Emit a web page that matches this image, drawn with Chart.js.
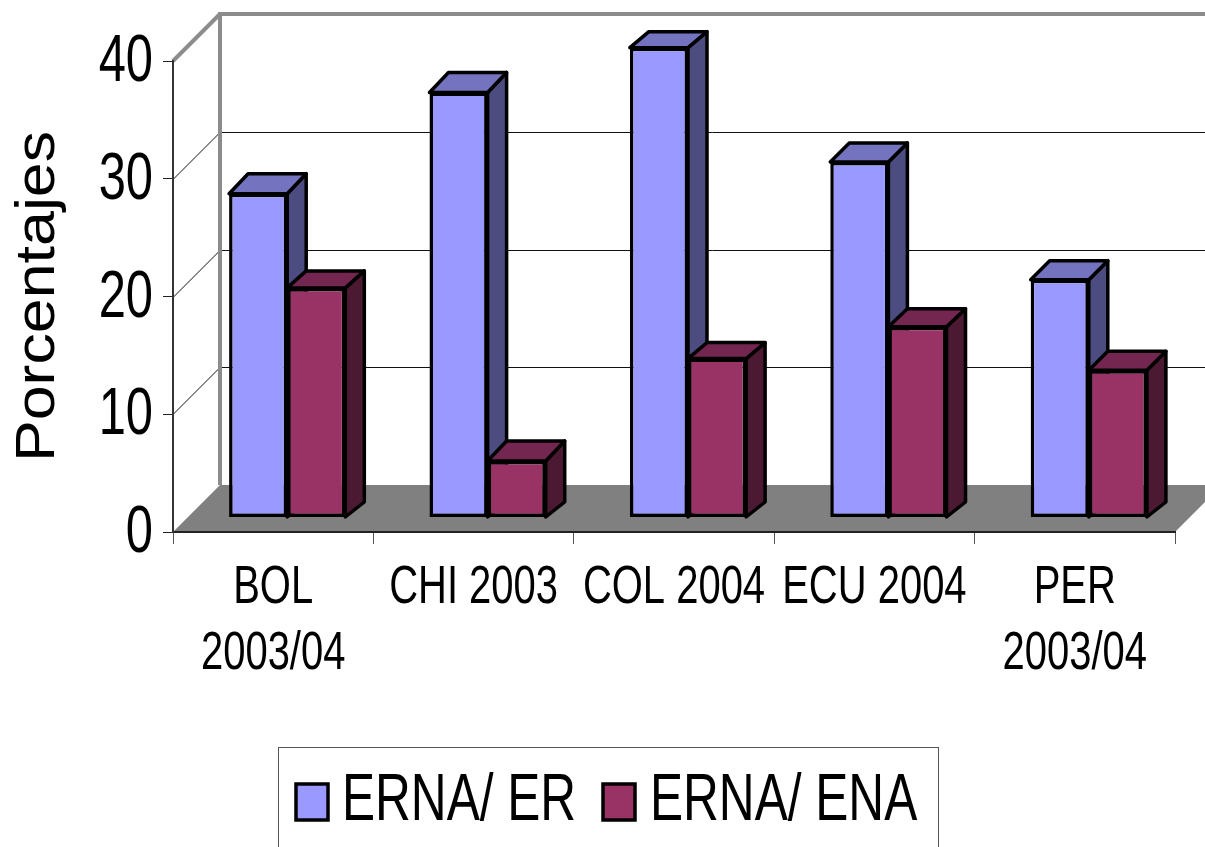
<!DOCTYPE html>
<html lang="es">
<head>
    <meta charset="UTF-8">
    <title>Porcentajes</title>
    <script src="https://cdn.jsdelivr.net/npm/chart.js@4"></script>
    <style>
        body{ margin: 0; background: #fff; }
        canvas{ display: block; }
    </style>
</head>
<body>
    <canvas id="miCanvas" width="1205" height="847"></canvas>
    <script>
        const categories = [["BOL", "2003/04"], "CHI 2003", "COL 2004", "ECU 2004", ["PER", "2003/04"]];
        const erValues = [27.5, 36.1, 39.9, 30.2, 20.2];
        const enaValues = [19.5, 4.8, 13.5, 16.2, 12.5];
        const yTicks = [0, 10, 20, 30, 40];
        const seriesNames = ["ERNA/ ER", "ERNA/ ENA"];
        const yTitle = "Porcentajes";

        const sans = "'Liberation Sans', sans-serif";
        // front, top, side
        const faces = [["#9999FF", "#7373BF", "#4C4C80"], ["#993366", "#732650", "#4C1933"]];
        const wallX = 47, wallY = 47;     // front axis plane -> back wall
        const barX = 14, barY = 14.5;     // front axis plane -> bar front
        const depthX = 19, depthBase = 15;
        // the original's cap height wobbles from bar to bar
        const depthTop = [[20, 20, 16, 19, 19], [17, 20, 16, 18, 19]];

        const poly = (ctx, pts) => {
            ctx.beginPath();
            pts.forEach((p, i) => i ? ctx.lineTo(p[0], p[1]) : ctx.moveTo(p[0], p[1]));
            ctx.closePath();
        };

        const canvas = document.getElementById("miCanvas");

        // no narrow font installed: squeeze text horizontally, the title goes wider
        const ctx2d = canvas.getContext("2d");
        const fillTextOrig = ctx2d.fillText;
        ctx2d.fillText = function (text, x, y) {
            const k = text === yTitle ? 1.12 : 0.74;
            this.save();
            this.translate(x, y);
            this.scale(k, 1);
            fillTextOrig.call(this, text, 0, 0);
            this.restore();
        };

        const fake3d = {
            id: "fake3d",
            beforeDraw(chart) {
                const ctx = chart.ctx, a = chart.chartArea, y = chart.scales.y;
                const bottom = y.getPixelForValue(0), top = y.getPixelForValue(40);
                ctx.save();
                // suelo
                ctx.fillStyle = "#808080";
                poly(ctx, [[a.left, bottom], [a.left + wallX, bottom - wallY], [a.right + wallX, bottom - wallY], [a.right, bottom]]);
                ctx.fill();
                // lineas de la pared
                ctx.strokeStyle = "#111";
                ctx.lineWidth = 1;
                yTicks.slice(1, -1).forEach(v => {
                    const py = Math.round(y.getPixelForValue(v)) + 0.5;
                    ctx.beginPath();
                    ctx.moveTo(a.left, py);
                    ctx.lineTo(a.left + wallX, py - wallY);
                    ctx.lineTo(1205, py - wallY);
                    ctx.stroke();
                });
                // borde gris
                ctx.strokeStyle = "#8c8c8c";
                ctx.lineWidth = 4;
                ctx.beginPath();
                ctx.moveTo(a.left + wallX, bottom - wallY);
                ctx.lineTo(a.left + wallX, top - wallY);
                ctx.lineTo(1205, top - wallY);
                ctx.moveTo(a.left, top);
                ctx.lineTo(a.left + wallX, top - wallY);
                ctx.stroke();
                ctx.restore();
            },
            beforeDatasetsDraw(chart) {
                const ctx = chart.ctx;
                ctx.save();
                ctx.translate(barX, -barY);
                ctx.lineWidth = 3.5;
                ctx.strokeStyle = "#000";
                ctx.lineJoin = "round";
                chart.data.datasets.forEach((ds, d) => {
                    chart.getDatasetMeta(d).data.forEach((bar, i) => {
                        const l = bar.x - bar.width / 2, r = bar.x + bar.width / 2;
                        const dy = depthTop[d][i];
                        ctx.fillStyle = faces[d][2];
                        poly(ctx, [[r, bar.y], [r + depthX, bar.y - dy], [r + depthX, bar.base - depthBase], [r, bar.base]]);
                        ctx.fill();
                        ctx.stroke();
                        ctx.fillStyle = faces[d][1];
                        poly(ctx, [[l, bar.y], [l + depthX, bar.y - dy], [r + depthX, bar.y - dy], [r, bar.y]]);
                        ctx.fill();
                        ctx.stroke();
                    });
                });
            },
            afterDatasetsDraw(chart) {
                chart.ctx.restore();
            },
            afterDraw(chart) {
                const ctx = chart.ctx;
                ctx.save();
                // leyenda
                ctx.strokeStyle = "#555";
                ctx.lineWidth = 1;
                ctx.strokeRect(278.5, 747.5, 660, 110);
                const boxX = [296, 603], textX = [342, 650];
                ctx.font = "67px " + sans;
                ctx.textBaseline = "middle";
                seriesNames.forEach((name, i) => {
                    ctx.fillStyle = faces[i][0];
                    ctx.fillRect(boxX[i], 784, 32, 36);
                    ctx.lineWidth = 3.5;
                    ctx.strokeStyle = "#000";
                    ctx.strokeRect(boxX[i], 784, 32, 36);
                    ctx.fillStyle = "#000";
                    ctx.fillText(name, textX[i], 802);
                });
                ctx.restore();
            }
        };

        new Chart(canvas, {
            type: "bar",
            data: {
                labels: categories,
                datasets: [
                    { label: seriesNames[0], data: erValues, backgroundColor: faces[0][0] },
                    { label: seriesNames[1], data: enaValues, backgroundColor: faces[1][0] }
                ]
            },
            options: {
                responsive: false,
                animation: false,
                layout: { padding: { top: 61, right: 30, bottom: 0, left: 0 } },
                datasets: { bar: {
                    barPercentage: 1, categoryPercentage: 0.58,
                    borderColor: "#000", borderWidth: 3.5, borderSkipped: false, clip: false
                } },
                plugins: { legend: { display: false }, tooltip: { enabled: false } },
                scales: {
                    x: {
                        afterFit: (s) => { s.height = 315; },
                        border: { color: "#222", width: 2 },
                        grid: { drawOnChartArea: false, tickLength: 12, tickColor: "#555" },
                        ticks: { color: "#000", maxRotation: 0, autoSkip: false, padding: 11,
                            font: { family: sans, size: 54, lineHeight: 1.222 } }
                    },
                    y: {
                        min: 0, max: 40,
                        afterFit: (s) => { s.width = 173; },
                        afterBuildTicks: (s) => { s.ticks = yTicks.map(v => ({ value: v })); },
                        border: { color: "#333", width: 2 },
                        grid: { drawOnChartArea: false, tickLength: 10, tickColor: "#222" },
                        ticks: { color: "#000", padding: 10, labelOffset: 2, font: { family: sans, size: 66 } },
                        title: { display: true, text: yTitle, color: "#000", padding: { top: 5, bottom: 0 },
                            font: { family: sans, size: 56 } }
                    }
                }
            },
            plugins: [fake3d]
        });
    </script>
</body>
</html>
